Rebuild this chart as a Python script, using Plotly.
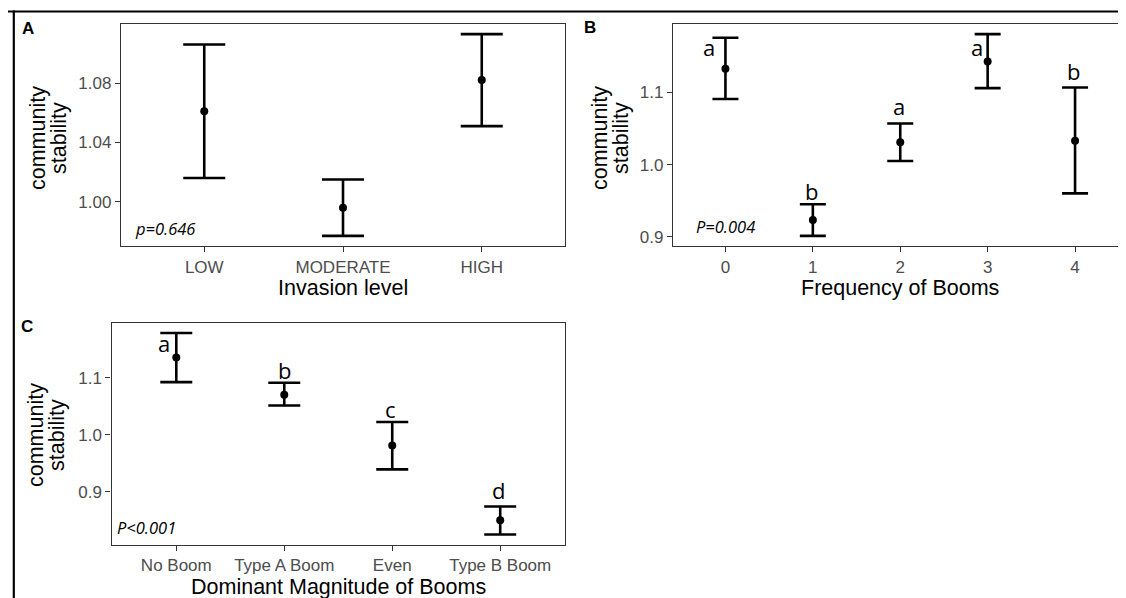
import plotly.graph_objects as go

W, H = 1126, 598

# ---------------- data ----------------
invasion_levels = ["LOW", "MODERATE", "HIGH"]
invasion_mean = [1.061, 0.996, 1.082]
invasion_upper = [1.106, 1.015, 1.113]
invasion_lower = [1.016, 0.977, 1.051]

freq_levels = ["0", "1", "2", "3", "4"]
freq_mean = [1.133, 0.923, 1.031, 1.143, 1.033]
freq_upper = [1.176, 0.945, 1.057, 1.181, 1.107]
freq_lower = [1.091, 0.901, 1.005, 1.106, 0.960]
freq_letters = ["a", "b", "a", "a", "b"]

mag_levels = ["No Boom", "Type A Boom", "Even", "Type B Boom"]
mag_mean = [1.135, 1.070, 0.981, 0.850]
mag_upper = [1.178, 1.091, 1.022, 0.874]
mag_lower = [1.092, 1.051, 0.939, 0.825]
mag_letters = ["a", "b", "c", "d"]

ticks_a = [1.00, 1.04, 1.08]
ticks_a_text = ["1.00", "1.04", "1.08"]
ticks_bc = [0.9, 1.0, 1.1]
ticks_bc_text = ["0.9", "1.0", "1.1"]

# ---------------- helpers ----------------
def px_x(p):
    return p / W

def px_y(p):
    return 1 - p / H

def yrange(lo, hi):
    lo_v, hi_v = min(lo), max(hi)
    pad = (hi_v - lo_v) * 0.05
    return [lo_v - pad, hi_v + pad]

TICKFONT = dict(family="Liberation Sans, Arial", size=17, color="#4D4D4D")
TITLEFONT = dict(family="Liberation Sans, Arial", size=21.5, color="black")
LETTERFONT = dict(family="Open Sans, Liberation Sans", size=22, color="black")
PFONT = dict(family="Open Sans, Liberation Sans", size=16.5, color="black")

fig = go.Figure()

panels = [
    ("x", "y", invasion_levels, invasion_mean, invasion_upper, invasion_lower, 21),
    ("x2", "y2", freq_levels, freq_mean, freq_upper, freq_lower, 13),
    ("x3", "y3", mag_levels, mag_mean, mag_upper, mag_lower, 16),
]
for xa, ya, cats, mean, up, lo, cap in panels:
    xs = list(range(len(cats)))
    fig.add_trace(go.Scatter(
        x=xs, y=mean, xaxis=xa, yaxis=ya, mode="markers",
        marker=dict(color="black", size=8),
        error_y=dict(type="data", symmetric=False,
                     array=[u - m for u, m in zip(up, mean)],
                     arrayminus=[m - l for m, l in zip(mean, lo)],
                     color="black", thickness=2.6, width=cap),
        showlegend=False, hoverinfo="skip"))

axis_common = dict(showgrid=False, zeroline=False, showline=True, mirror=True,
                   linecolor="#333333", linewidth=1.3, ticks="outside",
                   ticklen=5, tickwidth=1.2, tickcolor="#333333", tickfont=TICKFONT)

# panel geometry (pixels)
A = dict(x0=113, x1=557, y0=16, y1=238)
B = dict(x0=665, x1=1119.5, y0=16, y1=238)
C = dict(x0=103.5, x1=557, y0=315, y1=536.5)

def dom(P):
    return [px_x(P["x0"]), px_x(P["x1"])], [px_y(P["y1"]), px_y(P["y0"])]

dxA, dyA = dom(A)
dxB, dyB = dom(B)
dxC, dyC = dom(C)

fig.update_layout(
    xaxis=dict(domain=dxA, anchor="y", range=[-0.6, len(invasion_levels) - 0.4],
               tickvals=list(range(len(invasion_levels))), ticktext=invasion_levels, **axis_common),
    yaxis=dict(domain=dyA, anchor="x", range=yrange(invasion_lower, invasion_upper),
               tickvals=ticks_a, ticktext=ticks_a_text, **axis_common),
    xaxis2=dict(domain=dxB, anchor="y2", range=[-0.6, len(freq_levels) - 0.4],
                tickvals=list(range(len(freq_levels))), ticktext=freq_levels, **axis_common),
    yaxis2=dict(domain=dyB, anchor="x2", range=yrange(freq_lower, freq_upper),
                tickvals=ticks_bc, ticktext=ticks_bc_text, **axis_common),
    xaxis3=dict(domain=dxC, anchor="y3", range=[-0.6, len(mag_levels) - 0.4],
                tickvals=list(range(len(mag_levels))), ticktext=mag_levels, **axis_common),
    yaxis3=dict(domain=dyC, anchor="x3", range=yrange(mag_lower, mag_upper),
                tickvals=ticks_bc, ticktext=ticks_bc_text, **axis_common),
)

ann = []

# significance letters (positions relative to the bars)
freq_letter_pos = [(-0.185, 1.163), (0.98, 0.964), (1.98, 1.081), (2.88, 1.163), (3.98, 1.1295)]
for (lx, ly), t in zip(freq_letter_pos, freq_letters):
    ann.append(dict(x=lx, y=ly, xref="x2", yref="y2", text=t, showarrow=False,
                    font=LETTERFONT, xanchor="center", yanchor="middle"))
mag_letter_pos = [(-0.115, 1.160), (1.0, 1.1137), (1.98, 1.045), (2.98, 0.903)]
for (lx, ly), t in zip(mag_letter_pos, mag_letters):
    ann.append(dict(x=lx, y=ly, xref="x3", yref="y3", text=t, showarrow=False,
                    font=LETTERFONT, xanchor="center", yanchor="middle"))

# p-values
ann.append(dict(x=-0.28, y=0.9821, xref="x", yref="y", text="<i>p=0.646</i>", showarrow=False,
                font=PFONT, xanchor="center", yanchor="middle"))
ann.append(dict(x=0.0, y=0.9138, xref="x2", yref="y2", text="<i>P=0.004</i>", showarrow=False,
                font=PFONT, xanchor="center", yanchor="middle"))
ann.append(dict(x=-0.276, y=0.8374, xref="x3", yref="y3", text="<i>P<0.001</i>", showarrow=False,
                font=PFONT, xanchor="center", yanchor="middle"))

# panel tags
for txt, (px, py) in zip(["A", "B", "C"], [(20, 21), (582, 20), (19, 318)]):
    ann.append(dict(x=px_x(px), y=px_y(py), xref="paper", yref="paper", text=f"<b>{txt}</b>",
                    showarrow=False, font=dict(family="Liberation Sans, Arial", size=17, color="black"),
                    xanchor="center", yanchor="middle"))

# x-axis titles
for txt, P, ty in [("Invasion level", A, 280), ("Frequency of Booms", B, 280),
                   ("Dominant Magnitude of Booms", C, 579)]:
    ann.append(dict(x=px_x((P["x0"] + P["x1"]) / 2), y=px_y(ty), xref="paper", yref="paper",
                    text=txt, showarrow=False, font=TITLEFONT, xanchor="center", yanchor="middle"))

# y-axis titles (two lines, rotated)
for (c1, c2, cy) in [(30, 51, 130), (592, 613, 130), (28, 49, 427)]:
    ann.append(dict(x=px_x(c1), y=px_y(cy), xref="paper", yref="paper", text="community",
                    textangle=-90, showarrow=False, font=TITLEFONT, xanchor="center", yanchor="middle"))
    ann.append(dict(x=px_x(c2), y=px_y(cy), xref="paper", yref="paper", text="stability",
                    textangle=-90, showarrow=False, font=TITLEFONT, xanchor="center", yanchor="middle"))

fig.update_layout(annotations=ann)

# outer frame lines (top and left)
fig.add_shape(type="line", xref="paper", yref="paper", x0=0, x1=1, y0=px_y(3.5), y1=px_y(3.5),
              line=dict(color="black", width=2.2))
fig.add_shape(type="line", xref="paper", yref="paper", x0=px_x(5.8), x1=px_x(5.8), y0=0, y1=px_y(2.5),
              line=dict(color="black", width=2.2))

fig.update_layout(width=W, height=H, margin=dict(l=0, r=0, t=0, b=0),
                  paper_bgcolor="white", plot_bgcolor="white", showlegend=False)

fig.write_html("out.html")
